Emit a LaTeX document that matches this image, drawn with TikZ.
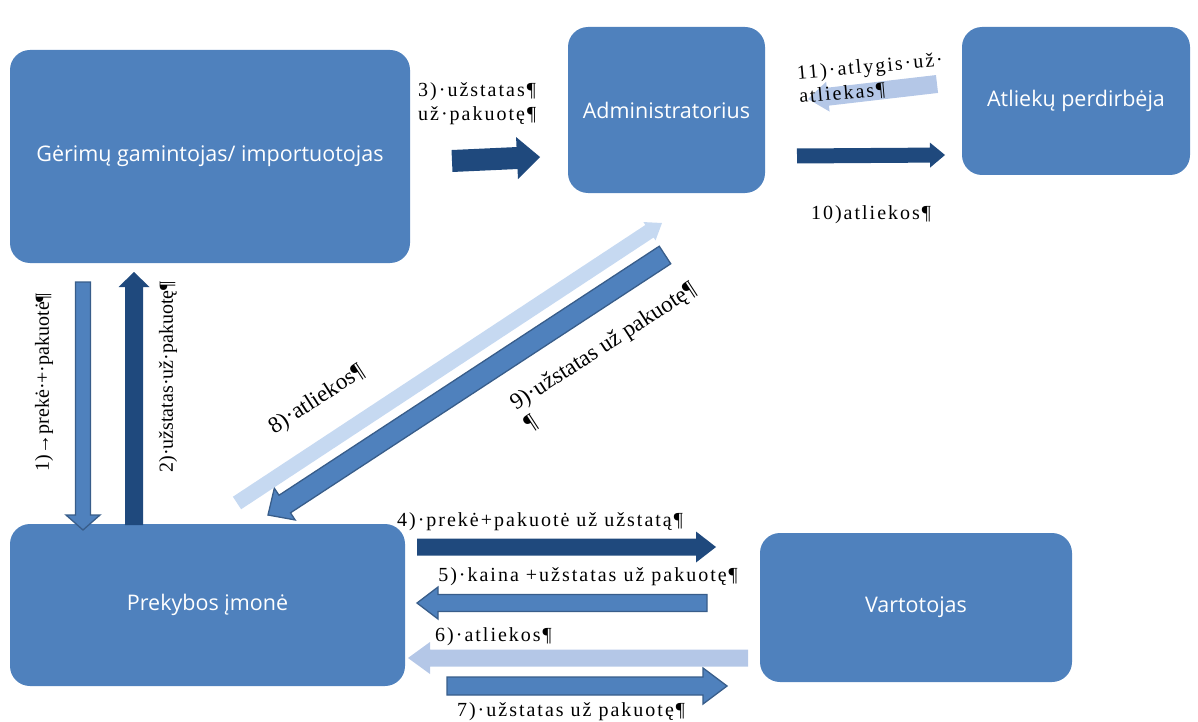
\documentclass[tikz,border=0pt]{standalone}
\usepackage{fontspec}
\setmainfont{Liberation Serif}
\newfontfamily\boxfont{Open Sans}
\newfontfamily\lblfont[LetterSpace=10]{Liberation Serif}
\usetikzlibrary{calc}

\definecolor{boxblue}{HTML}{4F81BD}
\definecolor{darkblue}{HTML}{1F497D}
\definecolor{edgeblue}{HTML}{385D8A}
\definecolor{paleblue}{HTML}{B4C7E7}
\definecolor{palerblue}{HTML}{C6D9F1}

\tikzset{
	box/.style={fill=boxblue, rounded corners=20pt, text=white, inner sep=0pt,
		font=\boxfont\fontsize{21.5}{24}\selectfont},
	darkarrow/.style={fill=darkblue},
	midarrow/.style={fill=boxblue, draw=edgeblue, line width=1.3pt},
	palearrow/.style={fill=paleblue},
	palerarrow/.style={fill=palerblue},
	lbl/.style={font=\lblfont\fontsize{20}{24}\selectfont, inner sep=0pt},
	rlbl/.style={font=\rmfamily\fontsize{23}{25}\selectfont, inner sep=0pt, rotate=33},
	vlbl/.style={font=\rmfamily\fontsize{20}{24}\selectfont, inner sep=0pt, rotate=90},
}

% block arrow from #2 to #3: half shaft #4, half head #5, head length #6
\newcommand{\blockarrow}[6][]{%
	\coordinate (bh) at ($(#3)!#6!(#2)$);
	\path[#1] ($(#2)!#4!90:(#3)$) -- ($(bh)!#4!90:(#3)$) -- ($(bh)!#5!90:(#3)$) -- (#3)
		-- ($(bh)!#5!-90:(#3)$) -- ($(bh)!#4!-90:(#3)$) -- ($(#2)!#4!-90:(#3)$) -- cycle;
}

\begin{document}
\begin{tikzpicture}[x=1pt,y=-1pt]
	\useasboundingbox (0,0) rectangle (1198,722);

	%boxes
	\node[box, minimum width=400pt, minimum height=213pt] (gam) at (210,156.5) {Gėrimų gamintojas/ importuotojas};
	\node[box, minimum width=197pt, minimum height=166pt] (adm) at (666.5,110) {Administratorius};
	\node[box, minimum width=228pt, minimum height=148pt] (perd) at (1076,101) {Atliekų perdirbėja};
	\node[box, minimum width=395pt, minimum height=162pt] (prek) at (207.5,605) {Prekybos įmonė};
	\node[box, minimum width=312pt, minimum height=149pt] (vart) at (916,607.5) {Vartotojas};

	%arrow ends
	\coordinate (s1) at (83,282);   \coordinate (e1) at (83,530);
	\coordinate (s2) at (134,525);  \coordinate (e2) at (134,272);
	\coordinate (s3) at (452,161);  \coordinate (e3) at (540,157);
	\coordinate (s4) at (417,547);  \coordinate (e4) at (716,547);
	\coordinate (s5) at (707,603);  \coordinate (e5) at (417,603);
	\coordinate (s6) at (748,658);  \coordinate (e6) at (408,658);
	\coordinate (s7) at (447,686);  \coordinate (e7) at (727,686);
	\coordinate (s8) at (237,503);  \coordinate (e8) at (662,223);
	\coordinate (s9) at (665,255);  \coordinate (e9) at (268,515);
	\coordinate (s10) at (797,156); \coordinate (e10) at (945,155);
	\coordinate (s11) at (937,84);  \coordinate (e11) at (808,99);

	%dark arrows
	\foreach \n/\w/\h/\l in {2/9pt/15.5pt/15pt, 3/11pt/21pt/23pt, 4/8.5pt/15.5pt/20pt, 10/7.5pt/12.5pt/15pt}{
		\blockarrow[darkarrow]{s\n}{e\n}{\w}{\h}{\l}
	}
	%outlined arrows
	\foreach \n/\w/\h/\l in {1/7.5pt/17pt/15pt, 5/8.5pt/16pt/21pt, 7/9pt/18pt/24pt, 9/10.5pt/19pt/20pt}{
		\blockarrow[midarrow]{s\n}{e\n}{\w}{\h}{\l}
	}
	%pale arrows
	\foreach \n/\w/\h/\l in {6/8.5pt/16pt/22pt, 11/9pt/15pt/20pt}{
		\blockarrow[palearrow]{s\n}{e\n}{\w}{\h}{\l}
	}
	\blockarrow[palerarrow]{s8}{e8}{7.5pt}{11pt}{15pt}

	%labels
	\node[lbl, align=left, anchor=west] (l3) at (418,104) {3)·užstatas¶\\už·pakuotę¶};
	\node[lbl, align=left, rotate=5] (l11) at (871,79) {11)·atlygis·už·\\atliekas¶};
	\node[lbl] (l10) at (871,215) {10)atliekos¶};
	\node[vlbl] (l1) at (44,382) {1)→prekė·+·pakuotė¶};
	\node[vlbl] (l2) at (168,377) {2)·užstatas·už·pakuotę¶};
	\node[rlbl] (l8) at (317,400) {8)·atliekos¶};
	\node[rlbl, align=left] (l9) at (610,357) {9)·užstatas už pakuotę¶\\¶};
	\node[lbl] (l4) at (540,522) {4)·prekė+pakuotė už užstatą¶};
	\node[lbl] (l5) at (588,577) {5)·kaina +užstatas už pakuotę¶};
	\node[lbl, anchor=west] (l6) at (435,637) {6)·atliekos¶};
	\node[lbl] (l7) at (571,712) {7)·užstatas už pakuotę¶};
\end{tikzpicture}
\end{document}
